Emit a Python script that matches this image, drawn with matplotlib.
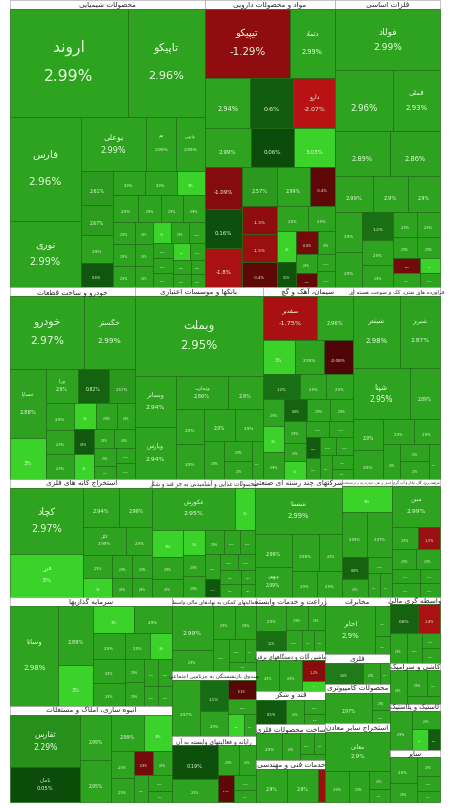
import unicodedata
import matplotlib
matplotlib.use("Agg")
import matplotlib.pyplot as plt
from matplotlib.patches import Rectangle
import numpy as np

# ---- data: sector -> list of (symbol, weight, change%) ----
S = {}
S['محصولات شیمیایی'] = [('اروند',13,2.99),('تاپیکو',8.5,2.96),('فارس',7.5,2.96),('نوری',4.8,2.99),('بوعلی',3.6,2.99),
    ('جم',1.6,2.99),('وارس',1.6,2.99),('',1.1,2.61),('',1.0,2.67),('',0.9,2.9),('',0.8,0.4),('',0.8,2.9),('',0.8,2.9),
    ('',0.7,3.0),('',0.7,2.9),('',0.6,2.9),('',0.6,2.9),('',0.6,2.9),('',0.5,2.9),('',0.5,2.9),('',0.5,2.9),('',0.4,2.9),
    ('',0.4,2.9),('',0.4,2.9),('',0.4,3.0),('',0.4,2.9),('',0.35,2.9),('',0.3,2.9),('',0.3,2.9),('',0.3,2.9),
    ('',0.3,3.0),('',0.25,2.9),('',0.25,2.9),('',0.25,2.9),('',0.2,2.9),('',0.2,2.9)]
S['مواد و محصولات دارویی'] = [('تیپیکو',6.0,-1.29),('دتماد',3.2,2.99),('',2.2,0.6),('',2.3,2.94),('دارو',2.1,-2.07),
    ('',1.8,2.99),('',1.6,3.03),('',1.7,0.06),('',1.6,-1.09),('',1.5,0.16),('',1.4,2.57),('',1.3,2.99),('',1.5,-1.8),
    ('',1.0,-0.4),('',1.0,-1.3),('',1.0,-1.5),('',0.9,-0.4),('',0.8,2.9),('',0.7,2.9),('',0.6,3.0),
    ('',0.5,0.3),('',0.5,-0.8),('',0.4,2.9),('',0.4,2.9),('',0.3,-0.5),('',0.3,2.9),('',0.3,2.9)]
S['فلزات اساسی'] = [('فولاد',6.6,2.99),('',3.6,2.96),('فملی',2.9,2.93),('',2.5,2.89),('',2.3,2.86),('',1.4,2.99),
    ('',1.3,2.9),('',1.2,2.9),('',1.1,2.9),('',1.0,2.9),('',0.9,1.2),('',0.8,2.9),('',0.7,2.9),('',0.6,2.9),
    ('',0.6,2.9),('',0.5,2.9),('',0.5,2.9),('',0.4,-0.8),('',0.4,2.9),('',0.3,3.0),('',0.3,2.9)]
S['خودرو و ساخت قطعات'] = [('خودرو',5.6,2.97),('خگستر',3.8,2.99),('خساپا',2.6,2.88),('',1.5,3.0),('ورنا',1.1,2.9),
    ('',1.1,0.82),('',0.9,2.57),('',0.8,2.9),('',0.7,2.9),('',0.7,2.9),('',0.6,3.0),('',0.6,2.9),('',0.5,2.9),
    ('',0.5,0.5),('',0.5,3.0),('',0.4,2.9),('',0.4,2.9),('',0.4,2.9),('',0.3,2.9),('',0.3,2.9),('',0.3,2.9)]
S['بانکها و موسسات اعتباری'] = [('وبملت',10.5,2.95),('وبصادر',2.2,2.94),('وپارس',2.2,2.94),('',1.0,2.9),('',1.0,2.9),
    ('وتجارت',1.8,2.86),('',1.2,2.9),('',1.0,2.9),('',0.9,2.9),('',0.8,2.9),('',0.6,2.9),('',0.5,2.9),('',0.4,2.9)]
S['سیمان، آهک و گچ'] = [('صفدیر',2.5,-1.75),('',1.6,2.96),('',1.1,3.0),('',1.0,2.99),('',1.0,-0.08),('',1.0,1.2),
    ('',0.7,2.9),('',0.7,2.9),('',0.6,2.9),('',0.6,3.0),('',0.6,2.9),('',0.5,0.8),('',0.5,2.9),('',0.5,2.9),
    ('',0.5,2.9),('',0.4,2.9),('',0.4,3.0),('',0.4,2.9),('',0.4,2.9),('',0.3,0.6),('',0.3,2.9),('',0.3,2.9),
    ('',0.3,2.9),('',0.3,2.9),('',0.3,2.9),('',0.2,2.9)]
S['فراورده های نفتی، کک و سوخت هسته ای'] = [('شبندر',3.5,2.98),('شبریز',3.0,2.87),('شپنا',3.0,2.95),('',1.6,2.89),
    ('',1.0,2.9),('',0.9,2.9),('',0.8,2.9),('',0.7,2.9),('',0.6,2.9),('',0.5,2.9),('',0.5,2.9),('',0.4,2.9)]
S['استخراج کانه های فلزی'] = [('کچاد',5.2,2.97),('فزر',3.4,3.0),('',1.5,2.94),('',1.4,2.99),('کگل',1.3,2.99),
    ('',0.8,2.9),('',0.7,2.9),('',0.6,3.0),('',0.5,2.9),('',0.5,2.9),('',0.4,2.9),('',0.4,2.9)]
S['محصولات غذایی و آشامیدنی به جز قند و شکر'] = [('غکورش',3.7,2.95),('',0.9,3.0),('',0.9,3.0),('',0.7,2.9),('',0.6,2.9),
    ('',0.6,3.0),('',0.5,2.9),('',0.5,2.9),('',0.5,2.9),('',0.4,2.9),('',0.4,2.9),('',0.4,2.9),('',0.3,0.4),
    ('',0.3,2.9),('',0.3,2.9),('',0.3,2.9),('',0.3,2.9),('',0.2,2.9),('',0.2,2.9)]
S['شرکتهای چند رشته ای صنعتی'] = [('شستا',4.3,2.99),('',1.3,2.99),('وبهمن',1.2,2.99),('',1.1,2.98),('',0.9,2.9),
    ('',0.7,2.9),('',0.7,2.9)]
S['حمل و نقل، انبارداری و ارتباطات'] = [('',1.2,2.99),('',1.2,2.97),('',1.4,3.0),('',0.6,0.8),('',0.5,2.9),
    ('',0.4,2.9),('',0.3,2.9),('',0.3,2.9)]
S['عرضه برق، گاز، بخار و آب گرم'] = [('مبین',2.1,2.99),('',0.5,-1.5),('',0.6,2.9),('',0.5,2.9),('',0.5,2.9),
    ('',0.4,2.9),('',0.4,2.9),('',0.3,2.9),('',0.3,2.9)]
S['سرمایه گذاریها'] = [('وسانا',5.2,2.98),('',2.2,2.89),('',1.1,2.9),('',1.2,3.0),('',1.5,3.0),('',0.9,2.9),
    ('',0.8,2.9),('',0.8,2.9),('',0.7,2.9),('',0.6,3.0),('',0.5,2.9),('',0.5,2.9),('',0.4,2.9),('',0.4,2.9),
    ('',0.3,2.9),('',0.3,2.9)]
S['انبوه سازی، املاک و مستغلات'] = [('ثفارس',4.0,2.29),('ثامان',2.7,0.05),('',1.5,2.99),('',1.4,2.95),('',1.3,2.99),
    ('',1.1,3.0),('',0.7,2.9),('',0.6,2.9),('',0.5,-0.8),('',0.5,2.9),('',0.4,2.9),('',0.4,2.9),('',0.3,2.9)]
S['فعالیتهای کمکی به نهادهای مالی واسط'] = [('',2.0,2.99),('',1.0,2.9),('',0.8,2.9),('',0.8,2.9),('',0.6,2.9),
    ('',0.4,2.9),('',0.3,2.9),('',0.3,2.9)]
S['صندوق بازنشستگی به جزتامین اجتماعی'] = [('',1.8,2.97),('',1.0,1.1),('',0.8,2.9),('',0.6,-0.3),('',0.5,2.9),
    ('',0.4,3.0),('',0.3,2.9)]
S['رایانه و فعالیتهای وابسته به آن'] = [('',1.8,0.19),('',1.2,2.9),('',0.7,2.9),('',0.6,2.9),('',0.5,-0.4),
    ('',0.4,2.9),('',0.3,2.9)]
S['زراعت و خدمات وابسته'] = [('',0.9,2.9),('',0.7,1.2),('',0.6,2.9),('',0.5,2.9),('',0.4,2.9),('',0.3,2.9),('',0.3,2.9)]
S['ماشین آلات و دستگاههای برقی'] = [('',0.9,2.9),('',0.9,2.9),('',0.6,-1.2),('',0.3,3.0)]
S['قند و شکر'] = [('',1.0,0.5),('',0.6,2.9),('',0.4,2.9),('',0.3,2.9)]
S['ساخت محصولات فلزی'] = [('',0.9,2.9),('',0.6,2.9),('',0.4,2.9),('',0.3,2.9),('',0.2,2.9)]
S['خدمات فنی و مهندسی'] = [('',1.3,2.9),('',1.3,2.9),('',0.3,-1.5)]
S['مخابرات'] = [('اخابر',2.8,2.9),('',0.5,2.9),('',0.3,2.9)]
S['محصولات کامپیوتری'] = [('',1.8,2.97),('',0.4,2.9),('',0.3,2.9)]
S['فلزی'] = [('',1.1,1.6),('',0.5,2.9),('',0.3,2.9)]
S['واسطه گری مالی'] = [('',0.9,0.8),('',0.7,-1.8),('',0.6,2.9),('',0.5,2.9),('',0.3,2.9),('',0.3,2.9)]
S['استخراج سایر معادن'] = [('معادن',2.8,2.9),('',0.8,2.9),('',0.7,2.9),('',0.4,2.9),('',0.3,2.9)]
S['کاشی و سرامیک'] = [('',0.7,2.9),('',0.6,2.9),('',0.4,2.9),('',0.3,2.9)]
S['لاستیک و پلاستیک'] = [('',1.0,2.9),('',0.6,2.9),('',0.4,3.0),('',0.3,0.6)]
S['سایر'] = [('',0.8,2.9),('',0.6,2.9),('',0.5,2.9),('',0.4,2.9),('',0.3,2.9)]

# grouping: rows of sectors, bottom band split into columns
rows = [['محصولات شیمیایی','مواد و محصولات دارویی','فلزات اساسی'],
        ['خودرو و ساخت قطعات','بانکها و موسسات اعتباری','سیمان، آهک و گچ','فراورده های نفتی، کک و سوخت هسته ای'],
        ['استخراج کانه های فلزی','محصولات غذایی و آشامیدنی به جز قند و شکر','شرکتهای چند رشته ای صنعتی',
         'حمل و نقل، انبارداری و ارتباطات','عرضه برق، گاز، بخار و آب گرم']]
bottom_cols = [['سرمایه گذاریها','انبوه سازی، املاک و مستغلات'],
               ['فعالیتهای کمکی به نهادهای مالی واسط','صندوق بازنشستگی به جزتامین اجتماعی','رایانه و فعالیتهای وابسته به آن'],
               ['زراعت و خدمات وابسته','ماشین آلات و دستگاههای برقی','قند و شکر','ساخت محصولات فلزی','خدمات فنی و مهندسی'],
               ['مخابرات','فلزی','محصولات کامپیوتری','استخراج سایر معادن'],
               ['واسطه گری مالی','کاشی و سرامیک','لاستیک و پلاستیک','سایر']]

RJ = set('اآدذرزژوأإؤة')
def shape(s):
    isar = lambda c: '\u0621' <= c <= '\u06ff'
    out = []
    for i, c in enumerate(s):
        if not isar(c):
            out.append(c); continue
        p = s[i-1] if i > 0 else ''
        n = s[i+1] if i+1 < len(s) else ''
        jp = bool(p) and isar(p) and p not in RJ
        jn = bool(n) and isar(n) and c not in RJ
        form = {(1,1):'MEDIAL',(1,0):'FINAL',(0,1):'INITIAL',(0,0):'ISOLATED'}[(int(jp),int(jn))]
        g = c
        for f in [form, {'MEDIAL':'FINAL','INITIAL':'ISOLATED'}.get(form,'ISOLATED')]:
            try:
                g = unicodedata.lookup(unicodedata.name(c) + ' ' + f + ' FORM'); break
            except KeyError:
                pass
        out.append(g)
    return ''.join(reversed(out))

def color(v):
    if v >= 3.0:
        return '#3bd22a'
    if v >= 0:
        t = min(v / 2.9, 1)
        a, b = np.array([0x0b,0x4a,0x0b]), np.array([0x2e,0xa3,0x20])
    else:
        t = min(-v / 2.5, 1)
        a, b = np.array([0x4a,0x05,0x05]), np.array([0xd0,0x15,0x18])
    return tuple((a + (b - a) * t) / 255)

def worst(row, w):
    s = sum(row)
    return max(max(w*w*r/(s*s), s*s/(w*w*r)) for r in row)

def squarify(vals, x, y, w, h):
    tot = sum(vals)
    vals = [v * w * h / tot for v in vals]
    rects = []
    while vals:
        short = min(w, h)
        row = [vals[0]]
        i = 1
        while i < len(vals) and worst(row + [vals[i]], short) <= worst(row, short):
            row.append(vals[i]); i += 1
        vals = vals[i:]
        s = sum(row)
        if w >= h:
            cw = s / h; yy = y
            for r in row:
                rects.append((x, yy, cw, r / cw)); yy += r / cw
            x += cw; w -= cw
        else:
            ch = s / w; xx = x
            for r in row:
                rects.append((xx, y, r / ch, ch)); xx += r / ch
            y += ch; h -= ch
    return rects

fig = plt.figure(figsize=(4.5, 8.08), dpi=100)
ax = fig.add_axes([0, 0, 1, 1])
ax.set_xlim(0, 450); ax.set_ylim(808, 0); ax.axis('off')
X0, X1, Y0, Y1 = 10, 440, 0, 802

def draw_sector(name, x, y, w, h):
    th = 9 if w > 60 else 7
    bar = Rectangle((x, y), w, th, fc='white', ec='#999999', lw=0.4)
    ax.add_patch(bar)
    fs = min(5.2, (w - 2) / (0.62 * len(name)))
    t = ax.text(x + w/2, y + th/2 + 0.3, shape(name), ha='center', va='center', fontsize=fs, color='#222222')
    t.set_clip_path(bar)
    items = sorted(S[name], key=lambda t: -t[1])
    rects = squarify([t[1] for t in items], x, y + th, w, h - th)
    for (nm, wt, ch), (rx, ry, rw, rh) in zip(items, rects):
        ax.add_patch(Rectangle((rx, ry), rw, rh, fc=color(ch), ec='#1d6b12', lw=0.5))
        side = min(rw, rh)
        fs = min(max(side / 7.5, 1.6), 14) * 0.8
        if side > 8:
            pct = ('%g' % ch) + '%'
            if nm:
                ax.text(rx + rw/2, ry + rh*0.36, shape(nm), ha='center', va='center', fontsize=fs, color='#e8ffe0')
            ax.text(rx + rw/2, ry + rh*0.62, pct, ha='center', va='center', fontsize=fs, color='#e8ffe0')

def wsum(n):
    return sum(t[1] for t in S[n])

allsum = sum(wsum(n) for r in rows for n in r) + sum(wsum(n) for c in bottom_cols for n in c)
H = Y1 - Y0; W = X1 - X0
y = Y0
for r in rows:
    rs = sum(wsum(n) for n in r)
    rh = H * rs / allsum
    x = X0
    for n in r:
        sw = W * wsum(n) / rs
        draw_sector(n, x, y, sw, rh)
        x += sw
    y += rh
bs = sum(wsum(n) for c in bottom_cols for n in c)
bh = Y1 - y
x = X0
for c in bottom_cols:
    cs = sum(wsum(n) for n in c)
    cw = W * cs / bs
    yy = y
    for n in c:
        sh = bh * wsum(n) / cs
        draw_sector(n, x, yy, cw, sh)
        yy += sh
    x += cw

fig.savefig('out.png', dpi=100, facecolor='white')
